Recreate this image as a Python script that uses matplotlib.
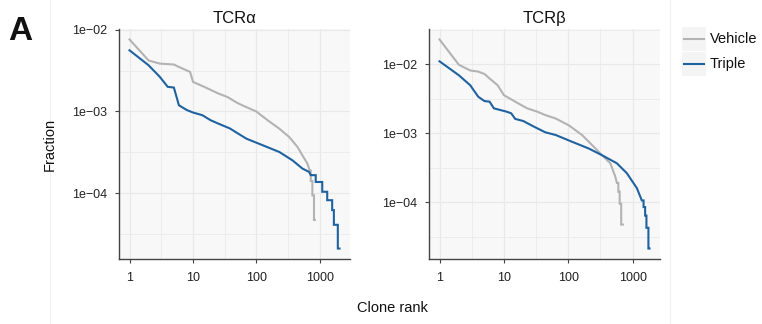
import matplotlib
matplotlib.use('Agg')
import matplotlib.pyplot as plt
import numpy as np
from matplotlib.ticker import FixedLocator, FixedFormatter, NullFormatter
from matplotlib.patches import Rectangle
from matplotlib.lines import Line2D

plt.rcParams['font.family'] = ['Liberation Sans', 'DejaVu Sans']

# ---------------- data ----------------
panel_titles = ['TCRα', 'TCRβ']
series_names = ['Vehicle', 'Triple']

vehicle_a_rank = [1, 2, 3, 5, 6, 9, 10, 15, 25, 35, 50, 61, 99, 150, 229, 328, 443,
                  529, 634, 690, 716, 716, 759, 759, 805, 805, 830]
vehicle_a_frac = [7.6e-3, 4.2e-3, 3.85e-3, 3.75e-3, 3.5e-3, 3.05e-3, 2.3e-3, 2.0e-3,
                  1.66e-3, 1.5e-3, 1.27e-3, 1.18e-3, 1.0e-3, 7.8e-4, 6.15e-4, 4.86e-4,
                  3.67e-4, 2.9e-4, 2.3e-4, 1.88e-4, 1.88e-4, 1.41e-4, 1.41e-4, 9.4e-5,
                  9.4e-5, 4.7e-5, 4.7e-5]

triple_a_rank = [1, 2, 3, 4, 5, 6, 8, 10, 14, 19, 25, 38, 69, 126, 229, 369, 529, 673,
                 716, 857, 857, 1086, 1086, 1300, 1300, 1556, 1556, 1655, 1655, 1910,
                 1910, 2030]
triple_a_frac = [5.6e-3, 3.67e-3, 2.65e-3, 2.0e-3, 1.96e-3, 1.19e-3, 1.04e-3, 9.7e-4,
                 9.0e-4, 7.8e-4, 7.1e-4, 6.2e-4, 4.65e-4, 3.85e-4, 3.19e-4, 2.52e-4,
                 2.0e-4, 1.82e-4, 1.66e-4, 1.66e-4, 1.37e-4, 1.37e-4, 1.04e-4, 1.04e-4,
                 8.2e-5, 8.2e-5, 6.2e-5, 6.2e-5, 4.1e-5, 4.1e-5, 2.1e-5, 2.1e-5]

vehicle_b_rank = [1, 2, 3, 4, 5, 6, 8, 10, 15, 23, 33, 44, 64, 102, 164, 249, 334, 451,
                  538, 570, 600, 600, 630, 630, 665, 665, 706]
vehicle_b_frac = [2.28e-2, 9.8e-3, 8.1e-3, 7.8e-3, 7.2e-3, 6.2e-3, 4.95e-3, 3.56e-3,
                  2.86e-3, 2.29e-3, 2.05e-3, 1.83e-3, 1.63e-3, 1.3e-3, 9.4e-4, 6.36e-4,
                  4.8e-4, 3.66e-4, 2.35e-4, 1.9e-4, 1.9e-4, 1.42e-4, 1.42e-4, 9.5e-5,
                  9.5e-5, 4.74e-5, 4.74e-5]

triple_b_rank = [1, 2, 3, 4, 5, 6, 7, 11, 13, 15, 20, 29, 44, 64, 115, 208, 334, 570,
                 814, 1164, 1390, 1480, 1480, 1565, 1565, 1640, 1640, 1760, 1760, 1830]
triple_b_frac = [1.1e-2, 6.9e-3, 4.95e-3, 3.37e-3, 2.92e-3, 2.86e-3, 2.29e-3, 2.05e-3,
                 1.94e-3, 1.61e-3, 1.5e-3, 1.25e-3, 1.03e-3, 9.4e-4, 7.5e-4, 6.0e-4,
                 4.8e-4, 3.66e-4, 2.63e-4, 1.6e-4, 1.06e-4, 1.06e-4, 8.5e-5, 8.5e-5,
                 6.4e-5, 6.4e-5, 4.26e-5, 4.26e-5, 2.13e-5, 2.13e-5]

x_ticks = [1, 10, 100, 1000]
x_tick_labels = ['1', '10', '100', '1000']
y_ticks = [1e-4, 1e-3, 1e-2]
y_tick_labels = ['1e\u221204', '1e\u221203', '1e\u221202']

panels = [
    [(vehicle_a_rank, vehicle_a_frac), (triple_a_rank, triple_a_frac)],
    [(vehicle_b_rank, vehicle_b_frac), (triple_b_rank, triple_b_frac)],
]

# ---------------- style ----------------
colors = ['#b3b3b3', '#1f62a0']
W, H = 762, 324
fig = plt.figure(figsize=(W / 100, H / 100), dpi=100)


def rect(x0, y0, x1, y1):
    return [x0 / W, 1 - y1 / H, (x1 - x0) / W, (y1 - y0) / H]


def expand(lo, hi, f=0.05):
    l, h = np.log10(lo), np.log10(hi)
    d = (h - l) * f
    return 10 ** (l - d), 10 ** (h + d)


# faint panel borders
for xp in (50, 670):
    fig.add_artist(Line2D([xp / W, xp / W], [0, 1], color='#f0f0f0', lw=0.8))

ax_rects = [rect(119, 29, 350, 259), rect(429, 29, 660, 259)]
for pi, (r, series) in enumerate(zip(ax_rects, panels)):
    ax = fig.add_axes(r)
    ax.set_facecolor('#f8f8f8')
    allx, ally = [], []
    for (xs, ys), c in zip(series, colors):
        ax.plot(xs, ys, color=c, lw=1.5, solid_joinstyle='miter')
        allx += xs
        ally += ys
    ax.set_xscale('log')
    ax.set_yscale('log')
    ax.set_xlim(*expand(min(allx), max(allx)))
    ax.set_ylim(*expand(min(ally), max(ally)))
    ax.xaxis.set_major_locator(FixedLocator(x_ticks))
    ax.xaxis.set_major_formatter(FixedFormatter(x_tick_labels))
    ax.yaxis.set_major_locator(FixedLocator(y_ticks))
    ax.yaxis.set_major_formatter(FixedFormatter(y_tick_labels))
    ax.xaxis.set_minor_locator(FixedLocator([10 ** (k + 0.5) for k in range(-1, 4)]))
    ax.yaxis.set_minor_locator(FixedLocator([10 ** (k + 0.5) for k in range(-6, 0)]))
    ax.xaxis.set_minor_formatter(NullFormatter())
    ax.yaxis.set_minor_formatter(NullFormatter())
    ax.grid(which='major', color='#e9e9e9', lw=0.9)
    ax.grid(which='minor', color='#ececec', lw=0.7)
    ax.set_axisbelow(True)
    for s in ('top', 'right'):
        ax.spines[s].set_visible(False)
    for s in ('left', 'bottom'):
        ax.spines[s].set_color('#444444')
        ax.spines[s].set_linewidth(1.0)
    ax.tick_params(which='major', length=3, width=0.8, color='#444444',
                   labelsize=9, labelcolor='#222222')
    ax.tick_params(axis='x', which='major', pad=6.5)
    ax.tick_params(axis='y', which='major', pad=5.5)
    ax.tick_params(which='minor', length=0)
    ax.set_title(panel_titles[pi], fontsize=12, pad=4, color='#111111')

fig.text(50 / W, 1 - 144 / H, 'Fraction', rotation=90, ha='center', va='center',
         fontsize=10.5, color='#111111')
fig.text(392 / W, 1 - 308 / H, 'Clone rank', ha='center', va='center',
         fontsize=10.5, color='#111111')
fig.text(20 / W, 1 - 31 / H, 'A', ha='center', va='center', fontsize=24,
         fontweight='bold', color='#111111')

# legend (ggplot style keys)
for i, (name, c) in enumerate(zip(series_names, colors)):
    y0 = 27 + i * 25
    fig.add_artist(Rectangle((682 / W, 1 - (y0 + 24) / H), 24 / W, 24 / H,
                             transform=fig.transFigure, facecolor='#f4f4f4',
                             edgecolor='none'))
    yc = 1 - (y0 + 12) / H
    fig.add_artist(Line2D([684 / W, 704 / W], [yc, yc], color=c, lw=1.5))
    fig.text(710 / W, yc, name, ha='left', va='center', fontsize=10.5, color='#111111')

fig.savefig('out.png', dpi=100)
